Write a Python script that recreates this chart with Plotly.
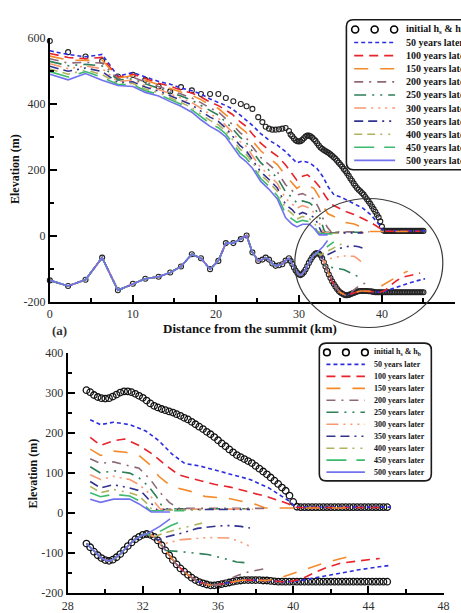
import plotly.graph_objects as go

W, H = 461, 613

# ------------------------------------------------------------------ data
# initial profile nodes (coarse upstream, fine downstream)
X_INIT = [0, 2.2, 4.3, 6.3, 8.2, 10.0, 11.5, 13.1, 14.5, 15.8, 17.1, 18.2, 19.3, 20.3, 21.2,
          22.1, 23.0, 23.7, 24.4, 25.1, 25.6, 26.0, 26.4, 26.8, 27.2, 27.6, 28.0, 28.4, 28.8,
          29.0, 29.2, 29.4, 29.6, 29.8, 30.0, 30.2, 30.4, 30.6, 30.8, 31.0, 31.2, 31.4, 31.6, 31.8,
          32.0, 32.2, 32.4, 32.6, 32.8, 33.0, 33.2, 33.4, 33.6, 33.8, 34.0, 34.2, 34.4, 34.6, 34.8,
          35.0, 35.2, 35.4, 35.6, 35.8, 36.0, 36.2, 36.4, 36.6, 36.8, 37.0, 37.2, 37.4, 37.6, 37.8,
          38.0, 38.2, 38.4, 38.6, 38.8, 39.0, 39.2, 39.4, 39.6, 39.8, 40.0, 40.2, 40.4, 40.6, 40.8,
          41.0, 41.2, 41.4, 41.6, 41.8, 42.0, 42.2, 42.4, 42.6, 42.8, 43.0, 43.2, 43.4, 43.6, 43.8,
          44.0, 44.2, 44.4, 44.6, 44.8, 45.0]
HS_INIT = [591, 557, 544, 530, 483, 488, 473, 453, 438, 451, 441, 430, 430, 430, 418,
           408, 400, 393, 385, 360, 345, 331, 325, 322, 322, 323, 325, 327, 318,
           307, 302, 295, 290, 287, 286, 287, 291, 296, 301, 304, 304, 302, 298, 293,
           288, 281, 274, 268, 264, 260, 257, 254, 251, 247, 243, 238, 234, 228, 222,
           216, 210, 203, 197, 190, 182, 174, 167, 159, 152, 145, 140, 135, 130, 125,
           118, 111, 104, 97, 89, 81, 73, 64, 56, 44, 28, 16, 15, 15, 15,
           15, 15, 15, 15, 15, 15, 15, 15, 15, 15, 15, 15, 15, 15, 15,
           15, 15, 15, 15, 15, 15]
HB_INIT = [-135, -152, -133, -66, -165, -145, -130, -124, -111, -93, -56, -68, -101, -76, -22,
           -22, -10, 1, -50, -76, -72, -66, -72, -84, -91, -89, -86, -75, -68,
           -76, -85, -96, -105, -112, -117, -119, -116, -110, -102, -92, -82, -73, -65, -59,
           -54, -52, -54, -59, -68, -80, -93, -105, -117, -128, -138, -146, -154, -161, -167,
           -172, -175, -178, -180, -180, -179, -177, -175, -173, -171, -169, -168, -167, -167, -167,
           -167, -167, -168, -168, -169, -170, -171, -171, -171, -171, -171, -171, -171, -171, -171,
           -171, -171, -171, -171, -171, -171, -171, -171, -171, -171, -171, -171, -171, -171, -171,
           -171, -171, -171, -171, -171, -171]
assert len(X_INIT) == len(HS_INIT) == len(HB_INIT)

YEARS = [50, 100, 150, 200, 250, 300, 350, 400, 450, 500]

# upper surfaces, upstream part (common nodes)
X_UP = [0, 2.2, 4.3, 6.3, 8.2, 10.0, 11.5, 13.1, 14.5, 15.8, 17.1, 18.2, 19.3, 20.3, 21.2,
        22.0, 22.9, 23.6, 24.4, 25.4, 26.4, 27.4, 28.4]
S50_UP = [561, 550, 543, 550, 484, 495, 482, 468, 460, 448, 440, 430, 415, 405, 395, 385, 365, 352, 335, 310, 290, 275, 255]
S100_UP = [553, 541, 537, 541, 481, 490, 477, 463, 454, 442, 433, 421, 406, 395, 381, 368, 346, 333, 309, 281, 260, 242, 215]
S150_UP = [545, 533, 532, 533, 478, 486, 472, 458, 448, 436, 426, 413, 397, 386, 367, 352, 329, 315, 288, 258, 236, 216, 183]
S200_UP = [537, 524, 526, 524, 475, 481, 466, 453, 442, 430, 418, 404, 387, 376, 355, 338, 313, 299, 270, 238, 216, 194, 155]
S250_UP = [529, 516, 520, 515, 472, 476, 461, 448, 436, 424, 411, 395, 378, 366, 345, 325, 299, 285, 256, 222, 199, 176, 133]
S300_UP = [522, 507, 515, 507, 468, 472, 456, 444, 431, 417, 404, 387, 369, 357, 335, 314, 286, 273, 243, 207, 184, 159, 113]
S350_UP = [514, 499, 509, 498, 465, 467, 451, 439, 425, 411, 397, 378, 360, 347, 326, 303, 274, 260, 231, 194, 171, 145, 95]
S400_UP = [506, 490, 503, 489, 462, 462, 445, 434, 419, 405, 389, 369, 350, 337, 317, 292, 263, 249, 223, 185, 162, 135, 83]
S450_UP = [498, 482, 498, 481, 459, 458, 440, 429, 413, 399, 382, 361, 341, 328, 309, 282, 251, 237, 213, 174, 150, 122, 67]
S500_UP = [490, 473, 492, 472, 456, 453, 435, 424, 407, 393, 375, 352, 332, 318, 300, 272, 240, 226, 205, 165, 141, 112, 55]

# upper surfaces, downstream part
S50_DN_X = [29.2, 29.75, 30.44, 31.3, 32.16, 32.85, 33.54, 34.23, 35.1, 36.0, 36.65, 37.7, 38.7, 39.76, 40.15, 45.2]
S50_DN_Y = [233, 221, 227, 221, 205, 181, 148, 124, 117, 105, 97, 84, 63, 31, 15, 15]
S100_DN_X = [29.2, 29.75, 30.44, 31.04, 31.8, 32.5, 33.2, 33.9, 34.5, 35.8, 36.65, 37.7, 38.7, 39.76, 40.1, 44.6]
S100_DN_Y = [189, 169, 181, 185, 169, 148, 120, 96, 88, 72, 65, 53, 40, 23, 14, 14]
S150_DN_X = [29.2, 29.75, 30.44, 31.1, 31.8, 32.4, 32.85, 33.5, 34.5, 35.3, 36.65, 37.3, 38.0, 38.5, 43.1]
S150_DN_Y = [160, 144, 155, 152, 144, 120, 92, 67, 55, 42, 36, 29, 22, 13, 13]
S200_DN_X = [29.2, 29.75, 30.44, 31.1, 31.8, 32.4, 32.85, 33.4, 33.9, 38.45]
S200_DN_Y = [136, 124, 128, 121, 112, 84, 55, 27, 12, 12]
S250_DN_X = [29.2, 29.75, 30.44, 31.3, 31.8, 32.3, 32.7, 33.0, 33.2, 37.6]
S250_DN_Y = [116, 100, 106, 100, 88, 67, 43, 19, 11, 11]
S300_DN_X = [29.2, 29.75, 30.44, 31.3, 31.8, 32.3, 32.7, 32.95, 37.85]
S300_DN_Y = [96, 84, 92, 84, 71, 51, 23, 10, 10]
S350_DN_X = [29.2, 29.75, 30.44, 31.3, 31.9, 32.3, 32.6, 32.75, 37.7]
S350_DN_Y = [79, 63, 71, 63, 55, 35, 15, 9, 9]
S400_DN_X = [29.2, 29.75, 30.44, 31.3, 31.8, 32.25, 32.5, 35.4]
S400_DN_Y = [67, 51, 59, 51, 43, 23, 8, 8]
S450_DN_X = [29.2, 29.75, 30.44, 31.3, 31.8, 32.16, 32.4, 34.2]
S450_DN_Y = [51, 41, 47, 43, 31, 15, 6, 6]
S500_DN_X = [29.2, 29.75, 30.44, 31.3, 31.8, 32.16, 32.45, 33.45]
S500_DN_Y = [35, 27, 35, 35, 23, 11, 3, 3]

# lower ice surface: follows the bed up to the grounding line, then the shelf base
GROUNDING = [40.0, 39.8, 38.6, 36.0, 33.2, 33.0, 32.8, 32.6, 32.4, 32.2]
B50_SH_X = [40.3, 41.3, 42.35, 43.4, 44.4, 45.2]
B50_SH_Y = [-169, -160, -150, -142, -135, -130]
B100_SH_X = [40.4, 40.9, 41.3, 41.75, 42.5, 43.5, 44.6]
B100_SH_Y = [-165, -153, -145, -136, -125, -119, -113]
B150_SH_X = [39.2, 39.9, 40.8, 41.5, 42.4, 43.1]
B150_SH_Y = [-163, -152, -138, -127, -115, -107]
B200_SH_X = [36.5, 37.0, 37.6, 38.1, 38.45]
B200_SH_Y = [-167, -156, -147, -142, -139]
B250_SH_X = [34.0, 34.75, 35.45, 36.3, 37.0, 37.6]
B250_SH_Y = [-96, -99, -103, -113, -122, -124]
B300_SH_X = [33.3, 34.06, 35.4, 36.65, 37.1, 37.85]
B300_SH_Y = [-74, -66, -61, -62, -70, -86]
B350_SH_X = [33.0, 34.06, 34.9, 35.95, 36.65, 37.2, 37.7]
B350_SH_Y = [-62, -50, -38, -32, -31, -33, -37]
B400_SH_X = [33.0, 34.0, 35.1, 35.4]
B400_SH_Y = [-52, -38, -25, -22]
B450_SH_X = [32.8, 33.5, 34.2]
B450_SH_Y = [-48, -31, -18]
B500_SH_X = [32.9, 33.45]
B500_SH_Y = [-33, -14]

# tick labels
TOP_X_TICKS = [0, 10, 20, 30, 40]
TOP_X_LABELS = ["0", "10", "20", "30", "40"]
TOP_Y_TICKS = [-200, 0, 200, 400, 600]
TOP_Y_LABELS = ["-200", "0", "200", "400", "600"]
BOT_X_TICKS = [28, 32, 36, 40, 44, 48]
BOT_X_LABELS = ["28", "32", "36", "40", "44", "48"]
BOT_Y_TICKS = [-200, -100, 0, 100, 200, 300, 400]
BOT_Y_LABELS = ["-200", "-100", "0", "100", "200", "300", "400"]

LEGEND_LABELS = ["initial h<sub>s</sub> &amp; h<sub>b</sub>"] + [f"{y} years later" for y in YEARS]

# ------------------------------------------------------------------ styles
COLORS = ["#2c2ce0", "#e8232a", "#f58a2a", "#8e6878", "#2e7f58",
          "#f79a72", "#32328f", "#b0b25c", "#3dba6e", "#7272ee"]
DASHES = ["4px,3px", "9px,6px", "14px,12px", "9px,6px,2px,6px",
          "12px,6px,2px,6px,2px,6px", "12px,5px,2px,5px,2px,5px,2px,5px",
          "9px,5px,9px,5px,2px,5px,2px,5px", "8px,5px,8px,5px,2px,6px,2px,6px",
          "20px,10px", "solid"]
SERIF = "Liberation Serif"
LW = 1.6

UP = [S50_UP, S100_UP, S150_UP, S200_UP, S250_UP, S300_UP, S350_UP, S400_UP, S450_UP, S500_UP]
DN_X = [S50_DN_X, S100_DN_X, S150_DN_X, S200_DN_X, S250_DN_X, S300_DN_X, S350_DN_X, S400_DN_X, S450_DN_X, S500_DN_X]
DN_Y = [S50_DN_Y, S100_DN_Y, S150_DN_Y, S200_DN_Y, S250_DN_Y, S300_DN_Y, S350_DN_Y, S400_DN_Y, S450_DN_Y, S500_DN_Y]
SH_X = [B50_SH_X, B100_SH_X, B150_SH_X, B200_SH_X, B250_SH_X, B300_SH_X, B350_SH_X, B400_SH_X, B450_SH_X, B500_SH_X]
SH_Y = [B50_SH_Y, B100_SH_Y, B150_SH_Y, B200_SH_Y, B250_SH_Y, B300_SH_Y, B350_SH_Y, B400_SH_Y, B450_SH_Y, B500_SH_Y]

fig = go.Figure()

# (xaxis, yaxis, lower x cut, marker size, marker line width, marker colour)
PANELS = [("x", "y", None, 5.0, 1.1, "#222"), ("x2", "y2", 29.0, 6.5, 1.3, "#111")]


def keep(xs, ys, lo):
    if lo is None:
        return list(xs), list(ys)
    pts = [(a, b) for a, b in zip(xs, ys) if a >= lo - 1e-9]
    return [p[0] for p in pts], [p[1] for p in pts]


for xa, ya, lo, msize, mlw, mcol in PANELS:
    for yvals, nm in ((HS_INIT, "initial h_s"), (HB_INIT, "initial h_b")):
        xx, yy = keep(X_INIT, yvals, lo)
        fig.add_trace(go.Scatter(
            x=xx, y=yy, mode="markers", name=nm, xaxis=xa, yaxis=ya,
            marker=dict(symbol="circle-open", size=msize, color=mcol, line=dict(width=mlw)),
            cliponaxis=False, hoverinfo="skip", showlegend=False))
    for i, yr in enumerate(YEARS):
        sx = X_UP + DN_X[i]
        sy = UP[i] + DN_Y[i]
        bx = [x for x in X_INIT if x <= GROUNDING[i] + 1e-9]
        by = HB_INIT[:len(bx)]
        bx = bx + SH_X[i]
        by = by + SH_Y[i]
        for xs, ys in ((sx, sy), (bx, by)):
            xx, yy = keep(xs, ys, lo)
            fig.add_trace(go.Scatter(
                x=xx, y=yy, mode="lines", name=f"{yr} years later", xaxis=xa, yaxis=ya,
                line=dict(color=COLORS[i], dash=DASHES[i], width=LW),
                hoverinfo="skip", showlegend=False))


def px(x):
    return x / W


def py(y):
    return 1 - y / H


AX = dict(showline=True, linecolor="black", linewidth=2, ticks="inside", ticklen=7,
          tickwidth=1.8, tickcolor="black", showgrid=False, zeroline=False, mirror=False,
          tickmode="array", tickfont=dict(family=SERIF, size=12, color="#303030"))


def minor(vals):
    return dict(ticks="inside", ticklen=4, tickwidth=1.5, tickcolor="black",
                tickmode="array", tickvals=vals, showgrid=False)


fig.update_layout(
    width=W, height=H, margin=dict(l=0, r=0, t=0, b=0),
    paper_bgcolor="white", plot_bgcolor="white", showlegend=False,
    xaxis=dict(AX, domain=[px(45), 1.0], range=[0, 48.8], anchor="y",
               tickvals=TOP_X_TICKS, ticktext=TOP_X_LABELS, minor=minor([5, 15, 25, 35, 45])),
    yaxis=dict(AX, domain=[py(301.7), py(31.7)], range=[-200, 600], anchor="x",
               tickvals=TOP_Y_TICKS, ticktext=TOP_Y_LABELS, minor=minor([-100, 100, 300, 500])),
    xaxis2=dict(AX, domain=[px(63.3), px(449.3)], range=[28, 48], anchor="y2",
                tickvals=BOT_X_TICKS, ticktext=BOT_X_LABELS, minor=minor([30, 34, 38, 42, 46])),
    yaxis2=dict(AX, domain=[py(600), py(354)], range=[-200, 400], anchor="x2",
                tickvals=BOT_Y_TICKS, ticktext=BOT_Y_LABELS,
                minor=minor([-150, -50, 50, 150, 250, 350])),
)

annotations = []
shapes = []


def text(x, y, s, size, angle=0, anchor="center", color="#111"):
    annotations.append(dict(x=px(x), y=py(y), xref="paper", yref="paper", text=s,
                            showarrow=False, textangle=angle, xanchor=anchor, yanchor="middle",
                            font=dict(family=SERIF, size=size, color=color)))


# axis titles and panel tag
text(251, 329, "<b>Distance from the summit (km)</b>", 13)
text(9, 166, "<b>Elevation (m)</b>", 12, angle=-90)
text(28, 477, "<b>Elevation (m)</b>", 12, angle=-90)
text(55, 331, "<b>(a)</b>", 13, anchor="center", color="#333")

# zoom circle
shapes.append(dict(type="circle", xref="paper", yref="paper",
                   x0=px(296.5), x1=px(448.5), y0=py(328), y1=py(196),
                   line=dict(color="#3a3a3a", width=1.2), layer="above"))


def rounded_box(x0, y0, x1, y1, r):
    def P(x, y):
        return f"{px(x):.5f},{py(y):.5f}"
    path = (f"M {P(x0 + r, y0)} L {P(x1 - r, y0)} Q {P(x1, y0)} {P(x1, y0 + r)} "
            f"L {P(x1, y1 - r)} Q {P(x1, y1)} {P(x1 - r, y1)} L {P(x0 + r, y1)} "
            f"Q {P(x0, y1)} {P(x0, y1 - r)} L {P(x0, y0 + r)} Q {P(x0, y0)} {P(x0 + r, y0)} Z")
    shapes.append(dict(type="path", path=path, xref="paper", yref="paper",
                       fillcolor="white", line=dict(color="#1a1a1a", width=1.6), layer="above"))


def legend(box, row0, step, sx0, sx1, circ, tx, fsize, crad):
    rounded_box(*box, 7)
    for k, lab in enumerate(LEGEND_LABELS):
        yy = row0 + k * step
        if k == 0:
            for cx in circ:
                shapes.append(dict(type="circle", xref="paper", yref="paper",
                                   x0=px(cx - crad), x1=px(cx + crad),
                                   y0=py(yy + crad), y1=py(yy - crad),
                                   line=dict(color="black", width=1.6), layer="above"))
        else:
            shapes.append(dict(type="line", xref="paper", yref="paper",
                               x0=px(sx0), x1=px(sx1), y0=py(yy), y1=py(yy),
                               line=dict(color=COLORS[k - 1], dash=DASHES[k - 1], width=LW),
                               layer="above"))
        text(tx, yy, f"<b>{lab}</b>", fsize, anchor="left", color="#151515")


legend((349.5, 13, 480, 166.5), 23.0, 13.4, 357.5, 399.5, (358.5, 378.5, 398.5), 408.5, 10, 3.6)
legend((321.7, 344, 436.7, 485), 353.5, 12.25, 329.0, 368.5, (329.5, 349.0, 368.5), 375.5, 8, 3.4)

fig.update_layout(annotations=annotations, shapes=shapes)
fig.write_html("out.html")
